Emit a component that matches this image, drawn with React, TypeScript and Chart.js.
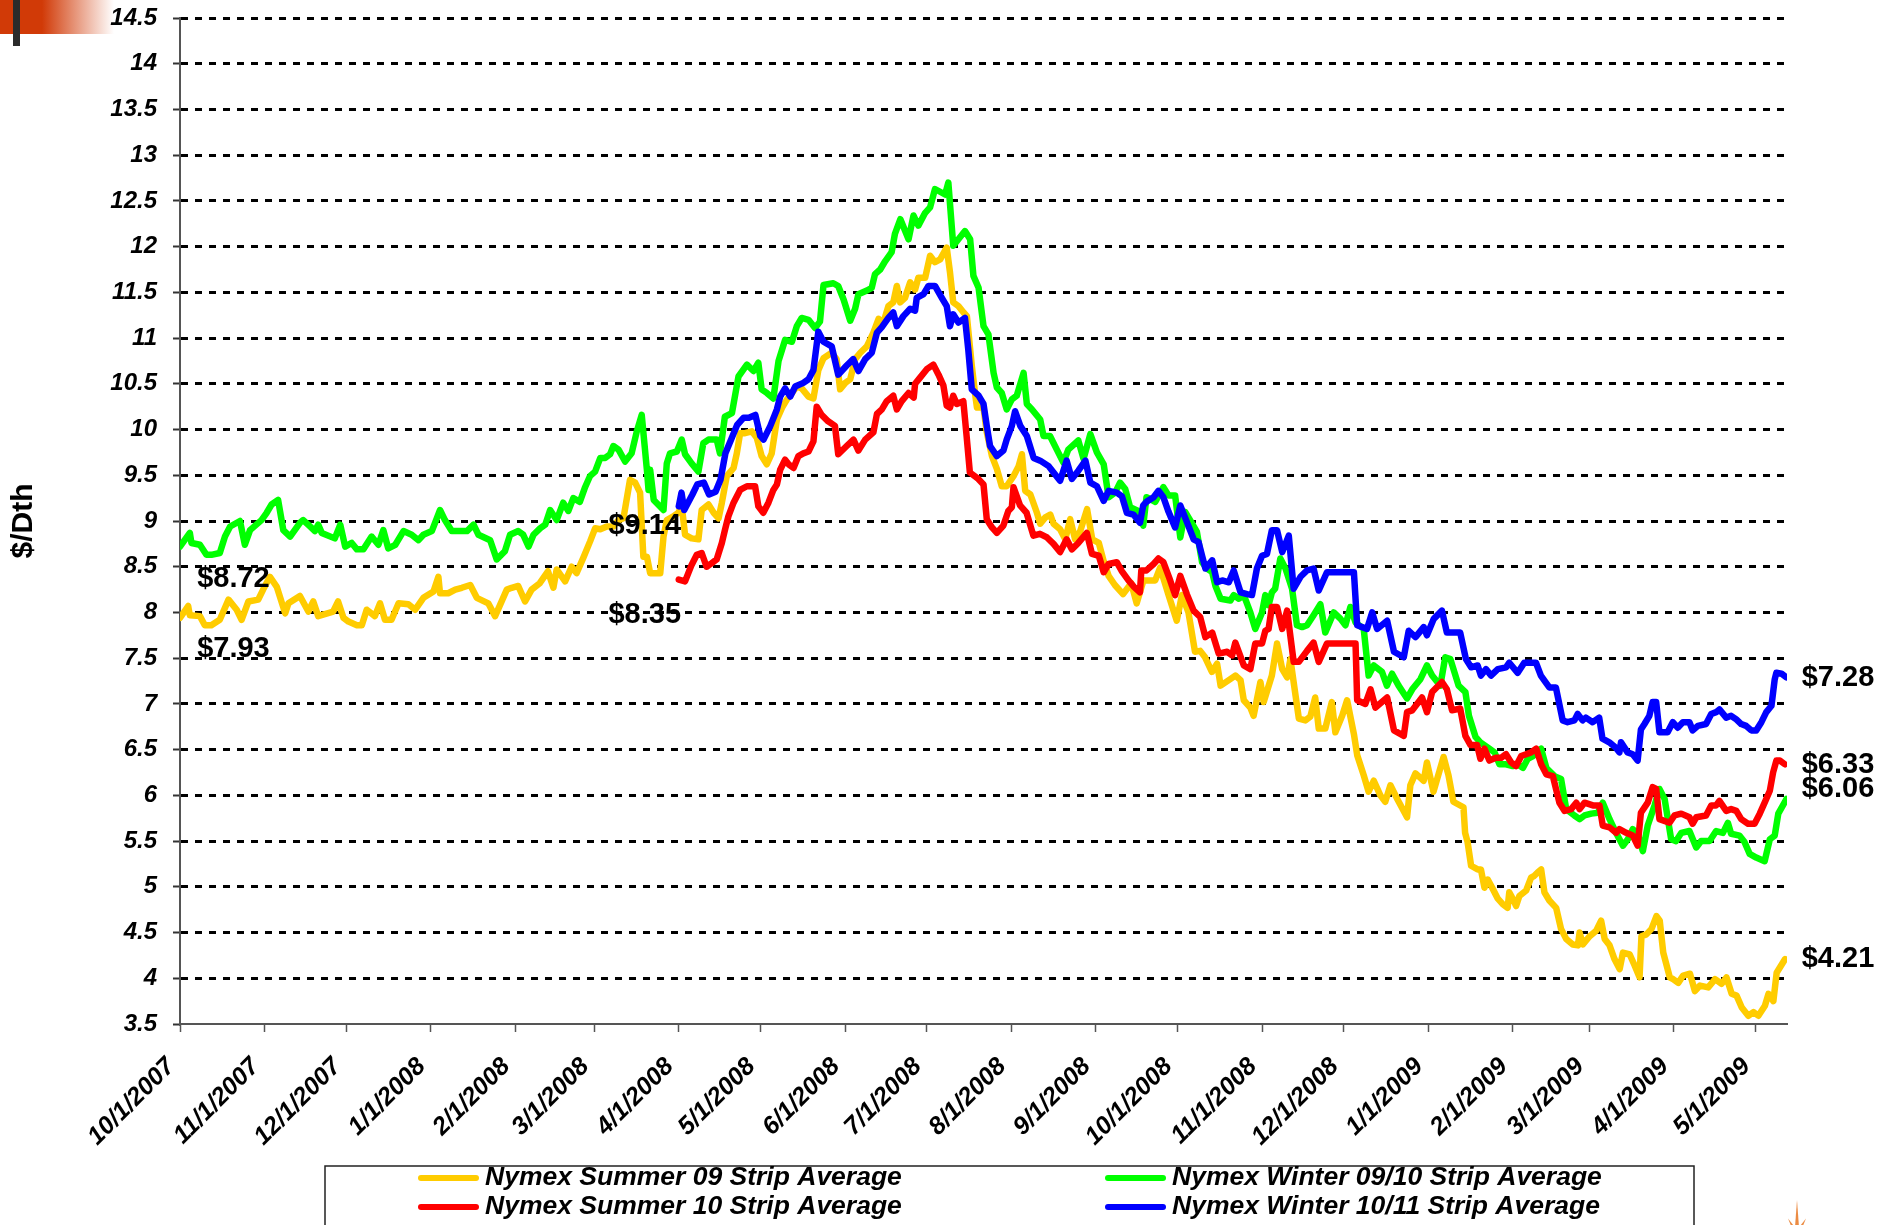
import React, { useEffect, useRef } from 'react';
import { Chart, registerables } from 'chart.js';

Chart.register(...registerables);

// x values are days counted from 10/1/2007
const monthTickDays = [0, 31, 61, 92, 123, 152, 183, 213, 244, 274, 305, 336, 366, 397, 427, 458, 489, 517, 548, 578];
const monthTickLabels = ['10/1/2007', '11/1/2007', '12/1/2007', '1/1/2008', '2/1/2008', '3/1/2008', '4/1/2008', '5/1/2008', '6/1/2008', '7/1/2008', '8/1/2008', '9/1/2008', '10/1/2008', '11/1/2008', '12/1/2008', '1/1/2009', '2/1/2009', '3/1/2009', '4/1/2009', '5/1/2009'];

const seriesLabels = ['Nymex Summer 09 Strip Average', 'Nymex Winter 09/10 Strip Average', 'Nymex Summer 10 Strip Average', 'Nymex Winter 10/11 Strip Average'];
const seriesColors = ['#FFCC00', '#00FF00', '#FF0000', '#0000FF'];

const summer09: [number, number][] = [[0,7.94],[3,8.07],[3.6,7.97],[7.3,7.96],[9.1,7.86],[11.5,7.86],[14.6,7.92],[17.8,8.14],[20.8,8.03],[22.6,7.92],[25.1,8.12],[28.7,8.14],[30.5,8.25],[33,8.39],[35.5,8.28],[38.6,7.99],[39.8,8.1],[44,8.18],[47.1,8.01],[48.9,8.12],[50.7,7.96],[56.2,8.01],[58,8.12],[60,7.94],[61.8,7.9],[64.9,7.86],[66.7,7.86],[68.5,8.03],[71.5,7.96],[73.4,8.1],[75.2,7.92],[77.6,7.92],[80.2,8.1],[83.8,8.09],[86.3,8.03],[89.3,8.16],[93,8.23],[94.8,8.39],[95.4,8.21],[98.4,8.21],[101,8.25],[103.4,8.27],[106.5,8.3],[108.9,8.16],[113.1,8.1],[115.6,7.96],[117.4,8.08],[119.9,8.25],[121.7,8.27],[124.1,8.29],[126.6,8.12],[129,8.25],[132,8.32],[135,8.45],[137,8.27],[138.2,8.47],[141.3,8.34],[143.7,8.5],[145.5,8.43],[148,8.6],[150.5,8.78],[152.3,8.92],[154.2,8.91],[156.6,8.94],[159,8.94],[160.9,9.01],[162.7,9.03],[165.1,9.45],[167,9.42],[168.8,9.31],[170,8.61],[171.3,8.61],[172.5,8.43],[176.2,8.43],[177.4,8.83],[178.6,9.01],[181,9.05],[182.8,9.09],[184.1,9.16],[185.3,8.85],[187.7,8.81],[190.2,8.8],[191.4,9.12],[193.9,9.18],[195.8,9.09],[197.6,9.03],[198.8,9.2],[200.6,9.49],[203.1,9.58],[204.3,9.74],[205.5,9.96],[207.3,9.96],[209.8,9.98],[211.6,9.91],[213.4,9.71],[215.3,9.62],[217.1,9.74],[219,10.11],[220.9,10.24],[222.7,10.33],[224.5,10.4],[226.3,10.47],[228.1,10.45],[230.6,10.36],[232.4,10.34],[234.2,10.65],[236.1,10.78],[239.1,10.84],[240.9,10.77],[242.2,10.44],[244.1,10.51],[245.9,10.55],[247.7,10.77],[249.6,10.84],[252,10.91],[254.4,11.06],[256.3,11.21],[258.1,11.17],[259.9,11.35],[261.7,11.39],[263,11.57],[264.2,11.39],[266,11.44],[267.9,11.61],[269.7,11.53],[270.9,11.66],[273.4,11.66],[275.2,11.9],[277,11.83],[278.9,11.86],[281.3,11.99],[282.5,11.72],[283.7,11.39],[285.6,11.35],[287.5,11.28],[288.7,11.24],[290.5,10.7],[291.8,10.37],[292.4,10.24],[294.8,10.24],[296,9.97],[297.9,9.71],[299.7,9.57],[301.5,9.38],[303.3,9.38],[305.8,9.49],[307.7,9.6],[308.9,9.73],[310.1,9.33],[312,9.29],[314.4,9.09],[315.6,8.97],[317.5,9.04],[319.3,9.07],[320.5,8.97],[322.9,8.91],[324.8,8.8],[326.6,9.02],[328.4,8.8],[330.3,8.89],[332.8,9.13],[334.7,8.8],[337.1,8.76],[338.9,8.56],[340.7,8.4],[343,8.3],[346,8.2],[349,8.32],[351,8.1],[353.5,8.35],[357.8,8.35],[359.6,8.49],[362.7,8.19],[365.7,7.91],[367.6,8.19],[370,8.0],[372.4,7.57],[374.3,7.58],[376.1,7.51],[378.6,7.35],[380.5,7.44],[381.8,7.2],[384.8,7.26],[387.2,7.31],[389.1,7.26],[390.3,7.04],[392.7,6.96],[393.9,6.87],[396.4,7.24],[397.6,7.02],[400.6,7.31],[402.5,7.66],[404.4,7.38],[406.2,7.29],[407.4,7.49],[409.3,7.09],[410.5,6.84],[412.9,6.82],[414.7,6.86],[416.5,7.07],[417.8,6.73],[420.2,6.73],[422.6,7.02],[423.9,6.69],[426.4,6.87],[428.2,7.04],[430.7,6.67],[431.9,6.44],[434.3,6.22],[436.1,6.04],[438,6.16],[440.4,6.0],[442.2,5.93],[444.1,6.11],[446.6,5.96],[450.2,5.76],[451.4,6.11],[453.3,6.24],[456.3,6.16],[457.5,6.36],[459.9,6.04],[463.6,6.42],[465.4,6.22],[467.2,5.93],[470.9,5.87],[471.5,5.59],[472.4,5.49],[473.7,5.23],[476.1,5.19],[477.3,5.19],[478.6,4.99],[479.8,5.08],[481.6,4.98],[483.5,4.87],[485.3,4.81],[487.1,4.77],[487.7,4.94],[489,4.87],[490.2,4.79],[491.4,4.9],[493.9,4.96],[495.7,5.1],[496.9,5.12],[498.2,5.16],[499.4,5.19],[500.6,4.94],[502.4,4.85],[504.9,4.77],[506.7,4.54],[508.6,4.43],[511,4.37],[512.9,4.36],[513.5,4.5],[514.7,4.37],[517.2,4.46],[519.6,4.52],[521.4,4.63],[522.7,4.43],[524.5,4.36],[526.3,4.21],[528.2,4.1],[529.4,4.28],[531.9,4.26],[533.7,4.14],[535.5,4.01],[536.2,4.46],[538,4.48],[539.9,4.54],[541.7,4.68],[542.9,4.63],[544.2,4.28],[546.6,4.01],[547.8,3.99],[549.7,3.95],[551.5,4.03],[554,4.05],[555.8,3.86],[557.7,3.92],[560.7,3.9],[563.2,3.99],[565.6,3.94],[567.4,4.01],[569.3,3.83],[571.1,3.81],[573,3.68],[575.4,3.59],[577.3,3.63],[579.1,3.59],[581.5,3.7],[582.8,3.83],[584.6,3.75],[585.8,4.06],[588.9,4.21]];

const winter0910: [number, number][] = [[0,8.72],[3.6,8.87],[4.2,8.76],[7.3,8.74],[9.7,8.63],[11.5,8.63],[14.6,8.65],[16.5,8.83],[18.4,8.94],[22,9.0],[23.8,8.74],[25.7,8.9],[29.9,9.01],[31.8,9.09],[33.6,9.18],[36,9.23],[37.9,8.9],[40.4,8.83],[44,8.98],[45.2,9.01],[47.7,8.94],[49.5,8.89],[50.7,8.96],[52,8.87],[56.8,8.81],[58.8,8.96],[60.6,8.72],[63,8.76],[64.9,8.69],[67.3,8.69],[70.3,8.83],[72.8,8.74],[74.6,8.9],[76.4,8.7],[79,8.74],[82,8.89],[85,8.85],[87.5,8.79],[89.3,8.85],[92.4,8.89],[95.4,9.12],[97.2,9.01],[99.7,8.89],[102.1,8.89],[105.3,8.89],[107.7,8.96],[109.5,8.85],[113.8,8.79],[116.2,8.58],[119.2,8.67],[121.1,8.85],[124.1,8.89],[125.9,8.85],[127.9,8.72],[129.7,8.85],[132.1,8.92],[134,8.96],[135.8,9.12],[138.2,9.01],[140.6,9.2],[142.5,9.11],[144.3,9.25],[146.7,9.21],[148.5,9.36],[150.4,9.49],[152.3,9.54],[154.2,9.69],[156,9.69],[157.8,9.73],[159,9.82],[160.9,9.78],[163.3,9.65],[165.7,9.74],[167.6,9.98],[169.4,10.16],[171.3,9.56],[171.9,9.34],[172.5,9.56],[173.8,9.23],[177.4,9.12],[178.6,9.63],[179.8,9.74],[182.3,9.76],[184.1,9.89],[185.3,9.73],[187.7,9.63],[190.2,9.54],[192,9.85],[193.9,9.89],[196.9,9.89],[198.1,9.74],[199.9,10.14],[202.5,10.18],[204.9,10.58],[208,10.71],[210.4,10.64],[212.2,10.73],[213.4,10.44],[215.3,10.4],[217.7,10.34],[219.6,10.75],[222,10.98],[224.5,10.96],[226.3,11.13],[228.1,11.22],[230.6,11.2],[233,11.11],[234.8,11.18],[236.1,11.58],[239.7,11.6],[241.5,11.57],[243.5,11.42],[245.9,11.19],[247.7,11.32],[248.9,11.48],[252,11.52],[253.8,11.55],[255,11.7],[256.9,11.75],[258.7,11.84],[261.1,11.94],[262.3,12.14],[264.3,12.3],[267.3,12.08],[269.1,12.34],[270.9,12.23],[273.4,12.37],[275.2,12.43],[277,12.63],[280.7,12.57],[281.9,12.7],[283.7,12.01],[285.6,12.08],[288,12.17],[289.9,12.08],[291.1,11.68],[293,11.55],[294.8,11.13],[296.6,11.04],[298.5,10.62],[299.7,10.46],[301.5,10.4],[303.3,10.22],[305.2,10.33],[307,10.37],[309.5,10.62],[310.7,10.28],[312.6,10.22],[315.6,10.11],[316.8,9.93],[319.2,9.93],[321.7,9.78],[324.1,9.64],[325.9,9.78],[329.6,9.88],[331.5,9.68],[334,9.95],[336.4,9.75],[338.9,9.62],[340.7,9.26],[343.1,9.31],[344.9,9.42],[346.8,9.35],[348.6,9.15],[351.6,9.11],[353.4,8.95],[354.6,9.26],[357.8,9.21],[360.8,9.37],[362.7,9.28],[365.1,9.28],[367,8.82],[368.8,9.1],[370.6,9.01],[373.1,8.88],[375,8.55],[376.8,8.48],[378.7,8.44],[379.9,8.29],[381.8,8.15],[385.4,8.13],[386.6,8.19],[388.5,8.15],[390.3,8.19],[392.7,8.0],[394.5,7.82],[397,8.0],[398.2,8.19],[399.4,8.08],[400.6,8.22],[401.8,8.26],[403.7,8.59],[405.6,8.48],[408,8.26],[409.8,7.86],[411.7,7.84],[413.5,7.86],[415.9,7.97],[418.4,8.09],[420.2,7.78],[423.3,8.0],[425.8,7.93],[427.6,7.86],[429.4,8.06],[431.3,7.89],[434.3,7.82],[436.1,7.31],[438,7.42],[441,7.35],[442.8,7.2],[444.7,7.33],[447.1,7.2],[450.2,7.06],[452.1,7.16],[455.1,7.27],[457.5,7.42],[459.4,7.31],[462.4,7.2],[464.2,7.51],[466.1,7.49],[469.1,7.2],[471.6,7.13],[472.9,6.87],[475.3,6.64],[477.1,6.58],[480.4,6.51],[482.3,6.47],[484.1,6.34],[486.5,6.34],[489,6.32],[490.8,6.34],[492.7,6.3],[494.5,6.4],[496.4,6.43],[499.4,6.51],[501.3,6.3],[504.3,6.21],[506.7,6.18],[508.6,5.85],[511.6,5.78],[513.5,5.74],[515.3,5.78],[517.8,5.8],[520.2,5.81],[522,5.92],[524.5,5.74],[526.9,5.59],[529.4,5.45],[531.2,5.52],[533,5.63],[534.8,5.58],[536.7,5.39],[538.5,5.67],[541,5.89],[542.8,6.07],[544.7,5.96],[547.1,5.52],[548.9,5.5],[550.8,5.59],[553.8,5.61],[556.3,5.43],[558.1,5.5],[561.2,5.5],[563.6,5.61],[566.1,5.59],[567.9,5.7],[569.1,5.58],[572.2,5.56],[574,5.49],[575.9,5.36],[578.3,5.32],[581.4,5.28],[583.3,5.52],[585.1,5.56],[586.4,5.8],[589.4,5.96]];

const summer10: [number, number][] = [[183,8.36],[185.3,8.34],[186.5,8.43],[187.7,8.52],[189.6,8.63],[191.4,8.65],[193.2,8.5],[195.1,8.54],[196.9,8.58],[198.8,8.76],[200,8.91],[201.2,9.05],[203.1,9.2],[205.5,9.34],[208,9.38],[211,9.38],[212.2,9.16],[214,9.09],[215.9,9.2],[217.7,9.34],[219,9.4],[220.2,9.56],[222,9.67],[223.3,9.62],[225.1,9.58],[226.9,9.71],[228.7,9.74],[230.6,9.76],[232.4,9.87],[233.6,10.25],[235.4,10.16],[237.8,10.09],[240.3,10.04],[241.5,9.73],[244.6,9.82],[247.1,9.89],[248.9,9.77],[251.4,9.89],[254.4,9.97],[255.7,10.17],[257.5,10.22],[259.3,10.31],[261.7,10.37],[263,10.22],[264.8,10.31],[267.3,10.4],[269.2,10.35],[269.7,10.5],[271.6,10.57],[274,10.66],[276.4,10.71],[278.3,10.6],[280.1,10.48],[281.3,10.26],[282.5,10.24],[283.7,10.37],[285,10.28],[287.4,10.31],[288.6,9.93],[289.8,9.53],[292.9,9.46],[294.8,9.4],[296,9.02],[297.9,8.93],[299.7,8.87],[302.1,8.95],[303.9,9.11],[305.2,9.15],[305.8,9.37],[308.2,9.17],[310.6,9.09],[313.1,8.84],[315.5,8.86],[318.1,8.82],[320.5,8.75],[322.9,8.66],[325.3,8.8],[327.2,8.69],[329.6,8.76],[332.7,8.87],[334.6,8.64],[337.1,8.62],[338.9,8.44],[340.7,8.53],[343.7,8.55],[345.6,8.45],[348,8.35],[350,8.28],[352.2,8.22],[352.7,8.46],[354.6,8.46],[357.2,8.53],[359,8.59],[360.8,8.55],[363.3,8.35],[365.1,8.19],[367,8.4],[369.4,8.2],[371.9,8.02],[374.3,7.95],[376.2,7.73],[378.7,7.78],[381.1,7.55],[384.2,7.57],[386,7.53],[387.2,7.67],[390.3,7.42],[392.7,7.38],[394.5,7.66],[397,7.66],[398.2,7.8],[399.4,7.82],[400.6,8.06],[402.5,8.06],[404.4,7.82],[406.2,8.02],[408.6,7.46],[410.5,7.46],[413.5,7.58],[415.9,7.67],[417.8,7.46],[420.8,7.66],[431.3,7.66],[431.9,7.04],[434.9,7.0],[436.8,7.16],[438.6,6.96],[442.9,7.07],[445.4,6.71],[449,6.65],[450.2,6.91],[452.1,6.93],[455.7,7.07],[457.5,6.91],[459.4,7.13],[463,7.24],[464.8,7.16],[466.7,6.93],[469.7,6.95],[471.6,6.65],[473.5,6.55],[475.9,6.55],[477.1,6.4],[478.6,6.51],[480.4,6.38],[482.8,6.41],[484.7,6.41],[486.5,6.45],[488.4,6.36],[490.2,6.32],[492.1,6.43],[493.9,6.45],[495.7,6.47],[497.6,6.51],[499.4,6.34],[501.3,6.23],[503.7,6.21],[506.1,5.92],[508,5.83],[510.4,5.85],[512.3,5.92],[513.5,5.85],[515.3,5.92],[518.4,5.89],[520.8,5.89],[522,5.67],[524.5,5.65],[526.9,5.59],[528.1,5.63],[530.6,5.59],[533,5.56],[534.8,5.45],[536,5.81],[538.5,5.92],[540.3,6.09],[541.6,6.07],[542.8,5.74],[546.5,5.7],[548.3,5.78],[550.8,5.8],[553.8,5.76],[555,5.69],[556.3,5.76],[559.9,5.78],[561.8,5.89],[563.6,5.89],[564.8,5.94],[567.3,5.83],[569.1,5.85],[571,5.83],[572.8,5.74],[575.3,5.69],[577.7,5.69],[579.6,5.8],[581.4,5.92],[583.3,6.05],[584.5,6.25],[585.7,6.38],[587,6.38],[588.8,6.34]];

const winter1011: [number, number][] = [[183,9.16],[184,9.31],[185,9.12],[188,9.29],[189.8,9.4],[192.2,9.42],[194.1,9.29],[196.5,9.32],[198.3,9.45],[200.1,9.74],[201.9,9.87],[204.4,10.05],[206.8,10.13],[208.7,10.13],[211.1,10.16],[212.9,9.93],[214.1,9.89],[216.6,10.04],[219,10.22],[220.2,10.36],[222,10.45],[223.9,10.36],[225.7,10.47],[228.7,10.51],[230.6,10.55],[232.4,10.65],[234.2,11.07],[236.1,10.96],[239.1,10.91],[241.5,10.6],[244.6,10.7],[247,10.77],[248.9,10.64],[251.4,10.77],[253.8,10.84],[255.7,11.06],[257.5,11.12],[259.9,11.22],[261.7,11.28],[263,11.13],[265.4,11.24],[267.9,11.32],[269.7,11.3],[270.3,11.44],[272.8,11.48],[274.6,11.57],[277,11.57],[279.5,11.44],[281.3,11.35],[282.5,11.13],[283.7,11.26],[285.6,11.17],[288,11.22],[289.2,10.88],[290.5,10.44],[293,10.37],[294.8,10.28],[296,10.04],[297.2,9.82],[299.7,9.71],[302.1,9.77],[303.3,9.89],[305.2,10.04],[306.4,10.2],[308.3,10.04],[310.7,9.93],[313.2,9.69],[315.6,9.66],[318.7,9.6],[320.5,9.53],[322.9,9.44],[325.3,9.66],[327.2,9.46],[329.6,9.55],[332.2,9.66],[334,9.42],[336.4,9.38],[338.9,9.22],[340.7,9.33],[343.7,9.31],[345.6,9.27],[347.4,9.09],[349.8,9.07],[352.2,8.98],[353.4,9.17],[354.6,9.21],[357.2,9.26],[359,9.33],[360.8,9.26],[362.7,9.1],[365.1,8.93],[367,9.17],[369.4,8.99],[371.9,8.8],[373.7,8.77],[376.2,8.48],[378.7,8.57],[380.5,8.33],[382.4,8.35],[384.8,8.33],[386.6,8.46],[389.1,8.22],[391.5,8.2],[393.3,8.19],[395.1,8.48],[397,8.62],[398.8,8.64],[400.6,8.9],[402.5,8.9],[404.4,8.66],[406.8,8.84],[408.6,8.26],[411.1,8.39],[413.5,8.46],[415.9,8.48],[417.8,8.24],[420.8,8.44],[430.7,8.44],[431.9,7.86],[435.5,7.82],[437.4,8.0],[439.2,7.82],[442.9,7.91],[445.4,7.57],[449,7.51],[450.8,7.8],[453.3,7.73],[456.3,7.84],[457.5,7.75],[460,7.93],[463,8.02],[464.8,7.78],[467.8,7.78],[469.7,7.78],[471.8,7.49],[473.7,7.4],[476.1,7.42],[477.3,7.31],[479.2,7.38],[481,7.31],[483.5,7.38],[486.5,7.4],[487.7,7.45],[490.8,7.34],[493.2,7.45],[495.6,7.45],[497.5,7.45],[499.3,7.31],[501.2,7.23],[502.4,7.18],[504.8,7.18],[507.3,6.82],[509.1,6.8],[511.6,6.82],[512.8,6.89],[514.6,6.82],[515.8,6.85],[518.3,6.8],[520.7,6.85],[521.9,6.62],[524.4,6.58],[526.8,6.52],[528.1,6.47],[528.7,6.58],[531.1,6.47],[533,6.45],[534.8,6.38],[536,6.72],[537.3,6.78],[539.1,6.87],[540.3,7.02],[541.6,7.02],[542.8,6.69],[545.8,6.69],[547.7,6.8],[549.5,6.74],[551.4,6.8],[553.8,6.8],[555,6.71],[556.9,6.76],[559.9,6.78],[561.8,6.89],[563.6,6.91],[564.8,6.94],[567.3,6.85],[569.1,6.87],[571,6.83],[572.8,6.78],[574.6,6.76],[576.5,6.71],[578.3,6.71],[580.2,6.8],[582,6.91],[583.9,6.98],[585.1,7.27],[585.7,7.34],[587.6,7.33],[589.4,7.29]];

// Price call-outs drawn on the chart (text, anchor day, anchor value)
const calloutTexts = ['$8.72', '$7.93', '$9.14', '$8.35', '$7.28', '$6.33', '$6.06', '$4.21'];
const calloutDays = [6.3, 6.3, 157.2, 157.2, 595, 595, 595, 595];
const calloutValues = [8.37, 7.6, 8.94, 7.97, 7.28, 6.33, 6.07, 4.21];

const FONT = "'Liberation Sans', Arial, Helvetica, sans-serif";

const decorPlugin = {
  id: 'decor',
  beforeDraw(chart: any) {
    const ctx = chart.ctx as CanvasRenderingContext2D;
    ctx.save();
    ctx.fillStyle = '#ffffff';
    ctx.fillRect(0, 0, chart.width, chart.height);
    ctx.fillStyle = '#D13A07';
    ctx.fillRect(0, 0, 42, 34);
    const g = ctx.createLinearGradient(42, 0, 114, 0);
    g.addColorStop(0, 'rgba(209,58,7,1)');
    g.addColorStop(1, 'rgba(209,58,7,0)');
    ctx.fillStyle = g;
    ctx.fillRect(42, 0, 72, 34);
    ctx.fillStyle = '#2b2b2b';
    ctx.fillRect(13, 0, 7, 46);
    // small star at bottom right
    const cx = 1797, cy = 1234;
    const spikes = [[-90, 34], [-60, 18], [-120, 18], [-30, 14], [-150, 14], [-10, 10], [-170, 10]];
    ctx.fillStyle = 'rgba(232,119,34,0.85)';
    spikes.forEach(([a, len]) => {
      const r = (a * Math.PI) / 180;
      const px = Math.cos(r + Math.PI / 2) * 2.5;
      const py = Math.sin(r + Math.PI / 2) * 2.5;
      ctx.beginPath();
      ctx.moveTo(cx + px, cy + py);
      ctx.lineTo(cx + Math.cos(r) * len, cy + Math.sin(r) * len);
      ctx.lineTo(cx - px, cy - py);
      ctx.closePath();
      ctx.fill();
    });
    ctx.restore();
  },
};

const calloutPlugin = {
  id: 'callouts',
  afterDatasetsDraw(chart: any) {
    const ctx = chart.ctx as CanvasRenderingContext2D;
    const xs = chart.scales.x;
    const ys = chart.scales.y;
    ctx.save();
    ctx.font = `bold 29px ${FONT}`;
    ctx.fillStyle = '#000';
    ctx.textAlign = 'left';
    ctx.textBaseline = 'middle';
    calloutTexts.forEach((t, i) => {
      ctx.fillText(t, xs.getPixelForValue(calloutDays[i]), ys.getPixelForValue(calloutValues[i]));
    });
    ctx.restore();
  },
};

const legendPlugin = {
  id: 'boxLegend',
  afterDraw(chart: any) {
    const ctx = chart.ctx as CanvasRenderingContext2D;
    const ds = chart.data.datasets;
    ctx.save();
    ctx.strokeStyle = '#222';
    ctx.lineWidth = 1.5;
    ctx.strokeRect(325, 1166, 1369, 80);
    const colX = [418, 1105];
    const rowY = [1178, 1207];
    ctx.font = `italic bold 26.5px ${FONT}`;
    ctx.textBaseline = 'middle';
    ctx.textAlign = 'left';
    ds.forEach((d: any, i: number) => {
      const cx = colX[i % 2];
      const cy = rowY[Math.floor(i / 2)];
      ctx.strokeStyle = d.borderColor;
      ctx.lineWidth = 6;
      ctx.lineCap = 'round';
      ctx.beginPath();
      ctx.moveTo(cx + 3, cy);
      ctx.lineTo(cx + 58, cy);
      ctx.stroke();
      ctx.fillStyle = '#000';
      ctx.fillText(d.label, cx + 67, cy);
    });
    ctx.restore();
  },
};

export default function App() {
  const ref = useRef<HTMLCanvasElement>(null);
  useEffect(() => {
    const canvas = ref.current;
    if (!canvas) return;
    const seriesData = [summer09, winter0910, summer10, winter1011];
    const drawOrder = [3, 2, 1, 0];
    const chart = new Chart(canvas, {
      type: 'line',
      data: {
        datasets: seriesData.map((s, i) => ({
          label: seriesLabels[i],
          data: s.map(([x, y]) => ({ x, y })),
          borderColor: seriesColors[i],
          backgroundColor: seriesColors[i],
          borderWidth: 6.5,
          pointRadius: 0,
          tension: 0,
          fill: false,
          borderJoinStyle: 'round',
          borderCapStyle: 'round',
          order: drawOrder[i],
        })),
      },
      options: {
        responsive: false,
        animation: false,
        devicePixelRatio: 1,
        layout: { padding: { top: 18, right: 113, left: 0, bottom: 0 } },
        plugins: { legend: { display: false }, tooltip: { enabled: false }, title: { display: false } },
        scales: {
          x: {
            type: 'linear',
            min: 0,
            max: 589.6,
            afterBuildTicks: (scale: any) => {
              scale.ticks = monthTickDays.map((v) => ({ value: v }));
            },
            afterFit: (scale: any) => {
              scale.height = 201;
            },
            ticks: {
              autoSkip: false,
              minRotation: 45,
              maxRotation: 45,
              padding: 20,
              labelOffset: -9,
              color: '#000',
              font: { family: FONT, size: 25, weight: 'bold', style: 'italic' },
              callback: (v: any) => {
                const i = monthTickDays.indexOf(Number(v));
                return i >= 0 ? monthTickLabels[i] : '';
              },
            },
            grid: { drawOnChartArea: false, drawTicks: true, tickLength: 8, tickColor: '#555', tickWidth: 1.5 },
            border: { display: true, color: '#555', width: 2 },
          },
          y: {
            min: 3.5,
            max: 14.5,
            afterFit: (scale: any) => {
              scale.width = 180;
              scale.paddingTop = 0;
              scale.paddingBottom = 0;
            },
            ticks: {
              stepSize: 0.5,
              padding: 16,
              color: '#000',
              font: { family: FONT, size: 24, weight: 'bold', style: 'italic' },
              callback: (v: any) => String(Number(v)),
            },
            grid: {
              color: (c: any) => (c.tick && c.tick.value === 3.5 ? 'rgba(0,0,0,0)' : '#000'),
              lineWidth: 3,
              drawTicks: true,
              tickLength: 7,
              tickColor: '#333',
              tickWidth: 2,
              tickBorderDash: [],
            },
            border: { display: true, color: '#555', width: 2, dash: [7, 7], dashOffset: 0 },
            title: {
              display: true,
              text: '$/Dth',
              color: '#000',
              font: { family: FONT, size: 30, weight: 'bold' },
              padding: { top: 6, bottom: 0 },
            },
          },
        },
      } as any,
      plugins: [decorPlugin, calloutPlugin, legendPlugin],
    } as any);
    return () => chart.destroy();
  }, []);
  return (
    <div style={{ position: 'fixed', left: 0, top: 0, width: 1900, height: 1225, background: '#fff', overflow: 'hidden' }}>
      <canvas ref={ref} width={1900} height={1225} style={{ display: 'block', width: 1900, height: 1225 }} />
    </div>
  );
}
